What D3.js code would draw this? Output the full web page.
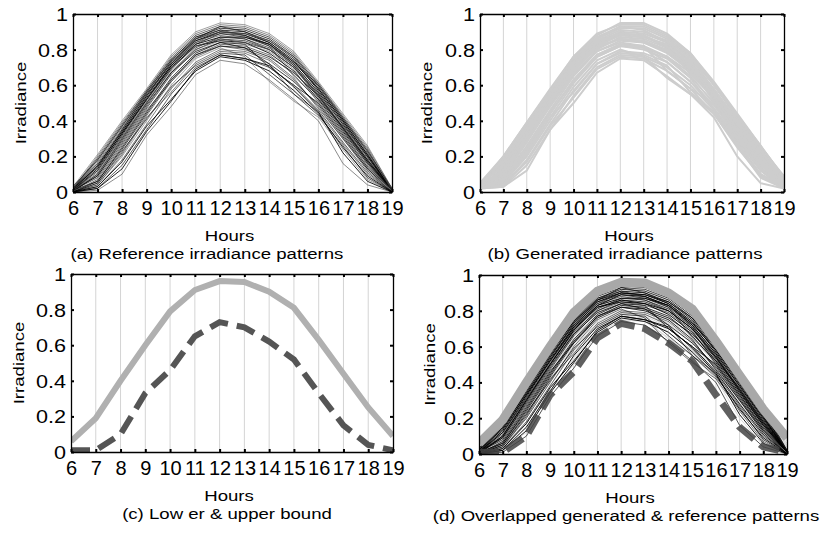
<!DOCTYPE html>
<html>
<head>
<meta charset="utf-8">
<script src="https://cdn.jsdelivr.net/npm/d3@7"></script>
<style>
body { margin: 0; background: #fff; }
text { font-family: "Liberation Sans", Arial, sans-serif; fill: #000; }
</style>
</head>
<body>
<div id="chart"></div>
<script>
var hours = [6, 7, 8, 9, 10, 11, 12, 13, 14, 15, 16, 17, 18, 19];
var yTicks = [0, 0.2, 0.4, 0.6, 0.8, 1];

// reference irradiance patterns
var reference = [
    [0.03,0.21,0.40,0.58,0.77,0.90,0.95,0.94,0.89,0.79,0.62,0.44,0.26,0.02],
    [0.02,0.19,0.38,0.57,0.75,0.88,0.93,0.92,0.87,0.77,0.60,0.42,0.24,0.01],
    [0.01,0.15,0.34,0.54,0.72,0.86,0.91,0.90,0.85,0.75,0.58,0.40,0.21,0.01],
    [0.00,0.10,0.30,0.50,0.69,0.83,0.89,0.88,0.83,0.72,0.56,0.38,0.19,0.01],
    [0.02,0.17,0.36,0.55,0.72,0.84,0.88,0.86,0.80,0.70,0.55,0.37,0.18,0.01],
    [0.01,0.08,0.27,0.47,0.66,0.80,0.86,0.85,0.80,0.70,0.53,0.35,0.17,0.01],
    [0.00,0.05,0.22,0.43,0.62,0.77,0.83,0.82,0.77,0.66,0.51,0.33,0.15,0.01],
    [0.01,0.12,0.32,0.52,0.70,0.82,0.85,0.84,0.78,0.68,0.52,0.34,0.16,0.01],
    [0.00,0.03,0.18,0.38,0.58,0.73,0.80,0.79,0.74,0.63,0.48,0.30,0.13,0.01],
    [0.00,0.01,0.10,0.32,0.48,0.66,0.74,0.72,0.63,0.52,0.40,0.16,0.04,0.00],
    [0.01,0.06,0.25,0.45,0.64,0.78,0.84,0.83,0.70,0.60,0.50,0.32,0.14,0.01],
    [0.02,0.14,0.33,0.53,0.71,0.85,0.90,0.89,0.84,0.74,0.57,0.39,0.20,0.01],
    [0.00,0.04,0.20,0.40,0.60,0.75,0.81,0.76,0.62,0.51,0.42,0.24,0.07,0.00],
    [0.01,0.09,0.28,0.48,0.67,0.81,0.87,0.86,0.81,0.71,0.55,0.36,0.17,0.01],
    [0.03,0.18,0.37,0.56,0.74,0.87,0.92,0.91,0.86,0.76,0.59,0.41,0.23,0.02],
    [0.00,0.02,0.15,0.35,0.55,0.70,0.77,0.75,0.70,0.60,0.46,0.28,0.11,0.00],
    [0.01,0.11,0.31,0.51,0.70,0.84,0.90,0.88,0.82,0.65,0.52,0.37,0.18,0.01],
    [0.02,0.16,0.35,0.55,0.73,0.86,0.93,0.90,0.84,0.73,0.60,0.41,0.22,0.01],
    [0.00,0.07,0.26,0.46,0.62,0.76,0.82,0.80,0.75,0.64,0.47,0.30,0.12,0.00],
    [0.01,0.13,0.33,0.52,0.71,0.83,0.87,0.87,0.83,0.73,0.58,0.40,0.21,0.01],
    [0.00,0.04,0.21,0.42,0.56,0.72,0.79,0.78,0.72,0.55,0.45,0.27,0.10,0.00],
    [0.02,0.20,0.39,0.57,0.76,0.89,0.94,0.93,0.88,0.78,0.61,0.43,0.25,0.02],
    [0.01,0.09,0.29,0.49,0.67,0.79,0.84,0.81,0.76,0.67,0.54,0.36,0.18,0.01],
    [0.00,0.03,0.17,0.37,0.52,0.68,0.76,0.74,0.68,0.57,0.44,0.25,0.09,0.00],
    [0.01,0.12,0.31,0.50,0.68,0.80,0.85,0.83,0.79,0.69,0.50,0.33,0.14,0.01],
    [0.02,0.15,0.34,0.54,0.73,0.85,0.89,0.87,0.82,0.72,0.56,0.38,0.20,0.01],
    [0.00,0.06,0.24,0.44,0.63,0.77,0.82,0.81,0.72,0.62,0.49,0.31,0.13,0.00],
    [0.01,0.10,0.30,0.50,0.69,0.82,0.86,0.84,0.80,0.70,0.54,0.35,0.16,0.01],
    [0.01,0.14,0.35,0.56,0.74,0.87,0.91,0.88,0.83,0.71,0.54,0.36,0.17,0.01],
    [0.00,0.05,0.23,0.41,0.59,0.71,0.78,0.77,0.66,0.55,0.43,0.26,0.08,0.00],
    [0.02,0.18,0.37,0.56,0.74,0.86,0.90,0.89,0.85,0.76,0.61,0.42,0.23,0.01],
    [0.00,0.02,0.13,0.34,0.51,0.69,0.77,0.75,0.71,0.59,0.45,0.22,0.06,0.00]
];

// generated irradiance patterns
var generated = [
    [0.04,0.20,0.39,0.58,0.76,0.88,0.95,0.95,0.89,0.78,0.62,0.44,0.26,0.08],
    [0.03,0.18,0.37,0.56,0.74,0.86,0.92,0.92,0.86,0.76,0.60,0.42,0.24,0.07],
    [0.02,0.14,0.33,0.53,0.71,0.84,0.90,0.89,0.84,0.73,0.57,0.39,0.21,0.05],
    [0.03,0.10,0.29,0.50,0.68,0.82,0.88,0.87,0.82,0.71,0.55,0.37,0.19,0.04],
    [0.05,0.16,0.35,0.54,0.72,0.85,0.89,0.88,0.81,0.70,0.54,0.36,0.18,0.06],
    [0.02,0.08,0.26,0.46,0.65,0.79,0.85,0.84,0.78,0.68,0.52,0.34,0.16,0.03],
    [0.03,0.06,0.22,0.42,0.61,0.76,0.82,0.81,0.76,0.65,0.50,0.32,0.14,0.03],
    [0.04,0.12,0.31,0.51,0.69,0.81,0.86,0.85,0.79,0.69,0.53,0.35,0.17,0.05],
    [0.02,0.04,0.18,0.38,0.57,0.72,0.79,0.78,0.73,0.62,0.47,0.29,0.12,0.02],
    [0.02,0.03,0.12,0.35,0.50,0.67,0.75,0.74,0.65,0.55,0.42,0.20,0.05,0.02],
    [0.03,0.07,0.24,0.44,0.63,0.77,0.83,0.82,0.68,0.58,0.49,0.31,0.13,0.03],
    [0.04,0.15,0.34,0.54,0.72,0.85,0.91,0.90,0.85,0.75,0.58,0.40,0.22,0.06],
    [0.02,0.05,0.20,0.40,0.59,0.74,0.80,0.76,0.64,0.55,0.44,0.26,0.08,0.02],
    [0.03,0.09,0.28,0.48,0.66,0.80,0.87,0.86,0.81,0.71,0.55,0.36,0.18,0.04],
    [0.05,0.19,0.38,0.57,0.75,0.87,0.93,0.93,0.87,0.77,0.60,0.42,0.25,0.09],
    [0.02,0.03,0.15,0.35,0.54,0.70,0.77,0.76,0.70,0.60,0.46,0.28,0.10,0.02],
    [0.03,0.11,0.30,0.51,0.69,0.83,0.89,0.88,0.82,0.66,0.53,0.38,0.19,0.04],
    [0.04,0.17,0.36,0.55,0.73,0.86,0.93,0.91,0.84,0.74,0.61,0.41,0.23,0.06],
    [0.02,0.07,0.25,0.45,0.62,0.76,0.82,0.80,0.75,0.64,0.47,0.30,0.12,0.03],
    [0.03,0.13,0.32,0.52,0.70,0.83,0.88,0.87,0.83,0.73,0.58,0.40,0.21,0.05],
    [0.02,0.05,0.21,0.42,0.56,0.72,0.78,0.77,0.71,0.56,0.45,0.27,0.10,0.03],
    [0.05,0.20,0.39,0.57,0.76,0.89,0.94,0.94,0.88,0.78,0.61,0.43,0.26,0.08],
    [0.03,0.09,0.28,0.49,0.67,0.79,0.84,0.82,0.76,0.67,0.54,0.36,0.18,0.04],
    [0.02,0.04,0.17,0.37,0.53,0.69,0.76,0.75,0.68,0.58,0.44,0.25,0.09,0.02],
    [0.03,0.12,0.31,0.50,0.68,0.81,0.86,0.84,0.79,0.69,0.51,0.33,0.15,0.04],
    [0.04,0.15,0.34,0.54,0.72,0.84,0.89,0.88,0.82,0.72,0.56,0.38,0.20,0.06],
    [0.02,0.06,0.23,0.44,0.63,0.77,0.83,0.81,0.73,0.62,0.49,0.31,0.13,0.03],
    [0.03,0.10,0.29,0.50,0.69,0.82,0.86,0.85,0.80,0.70,0.54,0.35,0.16,0.05]
];

var upperBound = [0.06,0.19,0.40,0.60,0.79,0.91,0.96,0.955,0.90,0.81,0.63,0.44,0.25,0.09];
var lowerBound = [0.01,0.01,0.10,0.33,0.46,0.65,0.73,0.70,0.62,0.52,0.33,0.15,0.04,0.01];

var captions = [
    "(a) Reference irradiance patterns",
    "(b) Generated irradiance patterns",
    "(c) Low er & upper bound",
    "(d) Overlapped generated & reference patterns"
];

var svg = d3.select("#chart").append("svg")
    .attr("width", 832)
    .attr("height", 536);

// plot boxes and where the labels sit
var panels = [
    {x0: 73,  x1: 392, y0: 14,  y1: 192, cap: 207, ylab: 21},
    {x0: 480, x1: 784, y0: 14,  y1: 192, cap: 625, ylab: 427},
    {x0: 71,  x1: 393, y0: 274, y1: 452, cap: 227, ylab: 19},
    {x0: 479, x1: 787, y0: 275, y1: 454, cap: 626, ylab: 430}
];

var stretch = 1.2;  // the figure's lettering is wider than Liberation Sans

panels.forEach(function (p, i) {
    var g = svg.append("g");
    var x = d3.scaleLinear().domain([6, 19]).range([p.x0, p.x1]);
    var y = d3.scaleLinear().domain([0, 1]).range([p.y1, p.y0]);
    var line = d3.line()
        .x(function (d, j) { return x(hours[j]); })
        .y(function (d) { return y(d); });

    // vertical grid
    g.selectAll(".grid")
        .data(hours.slice(1, -1))
        .enter().append("line")
        .attr("x1", function (d) { return x(d); })
        .attr("x2", function (d) { return x(d); })
        .attr("y1", p.y0)
        .attr("y2", p.y1)
        .attr("stroke", "#d4d4d4")
        .attr("stroke-width", 1);

    var clip = "clip" + i;
    svg.append("clipPath").attr("id", clip)
        .append("rect")
        .attr("x", p.x0).attr("y", p.y0 - 6)
        .attr("width", p.x1 - p.x0).attr("height", p.y1 - p.y0 + 6);
    var plot = g.append("g").attr("clip-path", "url(#" + clip + ")");

    if (i == 0) {
        plot.selectAll(".ref")
            .data(reference)
            .enter().append("path")
            .attr("d", line)
            .attr("fill", "none")
            .attr("stroke", function (d, j) { return j % 3 == 0 ? "#444" : "#000"; })
            .attr("stroke-opacity", function (d, j) { return 0.5 + (j % 4) * 0.12; })
            .attr("stroke-width", 1);
    }
    if (i == 1) {
        plot.selectAll(".gen")
            .data(generated)
            .enter().append("path")
            .attr("d", line)
            .attr("fill", "none")
            .attr("stroke", "#cdcdcd")
            .attr("stroke-width", 2);
    }
    if (i == 2) {
        plot.append("path")
            .attr("d", line(upperBound))
            .attr("fill", "none")
            .attr("stroke", "#b0b0b0")
            .attr("stroke-width", 6);
        plot.append("path")
            .attr("d", line(lowerBound))
            .attr("fill", "none")
            .attr("stroke", "#555")
            .attr("stroke-width", 6)
            .attr("stroke-dasharray", "19,9");
    }
    if (i == 3) {
        plot.selectAll(".gen")
            .data(generated)
            .enter().append("path")
            .attr("d", line)
            .attr("fill", "none")
            .attr("stroke", "#d8d8d8")
            .attr("stroke-width", 1);
        plot.selectAll(".ref")
            .data(reference)
            .enter().append("path")
            .attr("d", line)
            .attr("fill", "none")
            .attr("stroke", "#000")
            .attr("stroke-opacity", function (d, j) { return 0.55 + (j % 4) * 0.12; })
            .attr("stroke-width", 1);
        plot.append("path")
            .attr("d", line(upperBound))
            .attr("fill", "none")
            .attr("stroke", "#a8a8a8")
            .attr("stroke-width", 9);
        plot.append("path")
            .attr("d", line(lowerBound))
            .attr("fill", "none")
            .attr("stroke", "#444")
            .attr("stroke-opacity", 0.85)
            .attr("stroke-width", 7)
            .attr("stroke-dasharray", "20,8");
    }

    // axes on all four sides, ticks pointing inward
    var fmt = function (d) { return (d == 0 || d == 1) ? d : d3.format(".1f")(d); };
    var bottom = g.append("g")
        .attr("transform", "translate(0," + p.y1 + ")")
        .call(d3.axisBottom(x).tickValues(hours).tickSizeInner(-3).tickSizeOuter(0).tickPadding(9));
    var left = g.append("g")
        .attr("transform", "translate(" + p.x0 + ",0)")
        .call(d3.axisLeft(y).tickValues(yTicks).tickFormat(fmt).tickSizeInner(-3).tickSizeOuter(0).tickPadding(5));
    g.append("g")
        .attr("transform", "translate(0," + p.y0 + ")")
        .call(d3.axisTop(x).tickValues(hours).tickFormat("").tickSizeInner(-3).tickSizeOuter(0));
    g.append("g")
        .attr("transform", "translate(" + p.x1 + ",0)")
        .call(d3.axisRight(y).tickValues(yTicks).tickFormat("").tickSizeInner(-3).tickSizeOuter(0));

    g.selectAll(".tick line").attr("stroke", "#000").attr("stroke-width", 2);
    g.selectAll(".domain").attr("stroke", "#000").attr("stroke-width", 1.3);
    g.selectAll(".tick text")
        .style("font-family", "Liberation Sans, Arial, sans-serif")
        .attr("fill", "#000");
    // hour labels sit shoulder to shoulder, so they keep their natural width
    bottom.selectAll(".tick text").style("font-size", "20px");
    left.selectAll(".tick text")
        .style("font-size", "18px")
        .attr("dy", "0.36em")
        .attr("x", -5 / stretch)
        .attr("transform", "scale(" + stretch + ",1)");

    g.append("text")
        .attr("transform", "translate(" + p.ylab + "," + ((p.y0 + p.y1) / 2) + ") rotate(-90) scale(" + stretch + ",1)")
        .attr("text-anchor", "middle")
        .attr("dy", "0.35em")
        .style("font-size", "15.5px")
        .text("Irradiance");

    g.append("text")
        .attr("transform", "translate(" + ((p.x0 + p.x1) / 2 - 3) + "," + (p.y1 + 49) + ") scale(" + stretch + ",1)")
        .attr("text-anchor", "middle")
        .style("font-size", "15.5px")
        .text("Hours");

    g.append("text")
        .attr("transform", "translate(" + p.cap + "," + (p.y1 + 67) + ") scale(" + stretch + ",1)")
        .attr("text-anchor", "middle")
        .style("font-size", "15.5px")
        .text(captions[i]);
});
</script>
</body>
</html>
